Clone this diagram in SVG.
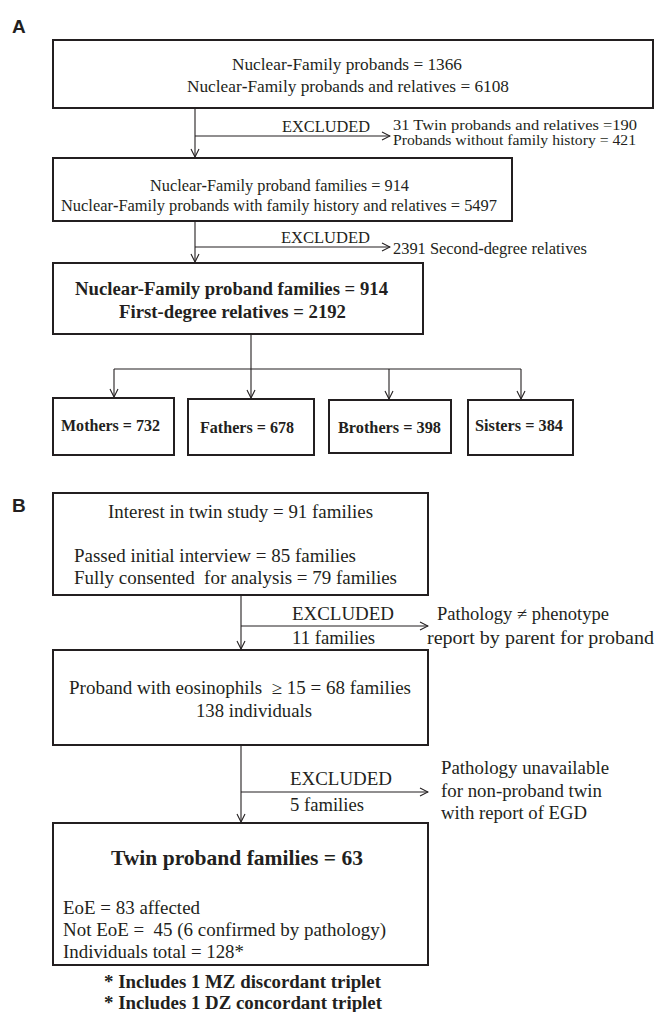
<svg xmlns="http://www.w3.org/2000/svg" width="655" height="1012" viewBox="0 0 655 1012">
<defs>
<style>
.box{fill:#fff;stroke:#231f20;stroke-width:2}
.ln{fill:none;stroke:#231f20;stroke-width:1.1}
.t{font-family:"Liberation Serif","Times New Roman",serif;fill:#231f20}
.a{font-size:16px}
.s{font-size:15px}
.b{font-size:18px}
.bd{font-weight:bold}
.lbl{font-family:"Liberation Sans",Arial,sans-serif;font-weight:bold;font-size:19px;fill:#231f20}
</style>
<marker id="ah" viewBox="-9 -5 10 10" refX="0" refY="0" markerWidth="10" markerHeight="10" markerUnits="userSpaceOnUse" orient="auto">
<path d="M-8,-4 L0,0 L-8,4" fill="none" stroke="#231f20" stroke-width="1.1"/>
</marker>
</defs>
<rect width="655" height="1012" fill="#fff"/>
<text class="lbl" x="12" y="33">A</text>
<text class="lbl" x="12" y="512">B</text>

<g id="connectors">
<line class="ln" x1="195" y1="108" x2="195" y2="157" marker-end="url(#ah)"/>
<line class="ln" x1="195" y1="136" x2="390" y2="136" marker-end="url(#ah)"/>
<line class="ln" x1="195" y1="221" x2="195" y2="262" marker-end="url(#ah)"/>
<line class="ln" x1="195" y1="247" x2="390" y2="247" marker-end="url(#ah)"/>
<line class="ln" x1="251" y1="334" x2="251" y2="398" marker-end="url(#ah)"/>
<line class="ln" x1="114" y1="369" x2="521" y2="369"/>
<line class="ln" x1="114" y1="369" x2="114" y2="397" marker-end="url(#ah)"/>
<line class="ln" x1="389" y1="369" x2="389" y2="399" marker-end="url(#ah)"/>
<line class="ln" x1="521" y1="369" x2="521" y2="399" marker-end="url(#ah)"/>
<line class="ln" x1="241" y1="595" x2="241" y2="649" marker-end="url(#ah)"/>
<line class="ln" x1="241" y1="626" x2="428" y2="626" marker-end="url(#ah)"/>
<line class="ln" x1="241" y1="745" x2="241" y2="822" marker-end="url(#ah)"/>
<line class="ln" x1="241" y1="792" x2="428" y2="792" marker-end="url(#ah)"/>
</g>

<g id="a-all-probands">
<rect class="box" x="53" y="40" width="600" height="68"/>
<text class="t a" x="232" y="70" textLength="230" lengthAdjust="spacingAndGlyphs">Nuclear<tspan class="bd">-</tspan>Family probands = 1366</text>
<text class="t a" x="187" y="92" textLength="322" lengthAdjust="spacingAndGlyphs">Nuclear<tspan class="bd">-</tspan>Family probands and relatives = 6108</text>
</g>

<g id="a-excluded-1">
<text class="t a" x="282" y="132" textLength="88" lengthAdjust="spacingAndGlyphs">EXCLUDED</text>
<text class="t s" x="393" y="130" textLength="244" lengthAdjust="spacingAndGlyphs">31 Twin probands and relatives =190</text>
<text class="t s" x="393" y="145" textLength="243" lengthAdjust="spacingAndGlyphs">Probands without family history = 421</text>
</g>

<g id="a-families">
<rect class="box" x="53" y="158" width="459" height="63"/>
<text class="t a" x="150" y="191" textLength="259" lengthAdjust="spacingAndGlyphs">Nuclear<tspan class="bd">-</tspan>Family proband families = 914</text>
<text class="t a" x="61" y="211" textLength="436" lengthAdjust="spacingAndGlyphs">Nuclear<tspan class="bd">-</tspan>Family probands with family history and relatives = 5497</text>
</g>

<g id="a-excluded-2">
<text class="t a" x="281" y="243" textLength="89" lengthAdjust="spacingAndGlyphs">EXCLUDED</text>
<text class="t a" x="393" y="254" textLength="194" lengthAdjust="spacingAndGlyphs">2391 Second<tspan class="bd">-</tspan>degree relatives</text>
</g>

<g id="a-first-degree">
<rect class="box" x="53" y="263" width="370" height="71"/>
<text class="t bd" style="font-size:18px" x="75" y="295" textLength="313" lengthAdjust="spacingAndGlyphs">Nuclear-Family proband families = 914</text>
<text class="t bd" style="font-size:18px" x="119" y="318" textLength="227" lengthAdjust="spacingAndGlyphs">First-degree relatives = 2192</text>
</g>

<g id="a-mothers">
<rect class="box" x="53" y="398" width="121" height="57"/>
<text class="t bd" style="font-size:16px" x="61" y="431" textLength="99" lengthAdjust="spacingAndGlyphs">Mothers = 732</text>
</g>
<g id="a-fathers">
<rect class="box" x="188" y="399" width="126" height="56"/>
<text class="t bd" style="font-size:16px" x="200" y="433" textLength="94" lengthAdjust="spacingAndGlyphs">Fathers = 678</text>
</g>
<g id="a-brothers">
<rect class="box" x="329" y="400" width="122" height="53"/>
<text class="t bd" style="font-size:16px" x="338" y="433" textLength="103" lengthAdjust="spacingAndGlyphs">Brothers = 398</text>
</g>
<g id="a-sisters">
<rect class="box" x="468" y="400" width="105" height="55"/>
<text class="t bd" style="font-size:16px" x="475" y="431" textLength="88" lengthAdjust="spacingAndGlyphs">Sisters = 384</text>
</g>

<g id="b-interest">
<rect class="box" x="53" y="493" width="375" height="102"/>
<text class="t b" x="108" y="518" textLength="265" lengthAdjust="spacingAndGlyphs">Interest in twin study = 91 families</text>
<text class="t b" x="74" y="562" textLength="282" lengthAdjust="spacingAndGlyphs">Passed initial interview = 85 families</text>
<text class="t b" x="74" y="584" textLength="323" lengthAdjust="spacingAndGlyphs" xml:space="preserve">Fully consented  for analysis = 79 families</text>
</g>

<g id="b-excluded-1">
<text class="t b" x="292" y="620" textLength="102" lengthAdjust="spacingAndGlyphs">EXCLUDED</text>
<text class="t b" x="292" y="644" textLength="83" lengthAdjust="spacingAndGlyphs">11 families</text>
<text class="t b" x="437" y="620" textLength="172" lengthAdjust="spacingAndGlyphs">Pathology ≠ phenotype</text>
<text class="t b" x="427" y="644" textLength="227" lengthAdjust="spacingAndGlyphs">report by parent for proband</text>
</g>

<g id="b-eosinophils">
<rect class="box" x="53" y="650" width="375" height="95"/>
<text class="t b" x="69" y="694" textLength="342" lengthAdjust="spacingAndGlyphs" xml:space="preserve">Proband with eosinophils  ≥ 15 = 68 families</text>
<text class="t b" x="196" y="717" textLength="116" lengthAdjust="spacingAndGlyphs">138 individuals</text>
</g>

<g id="b-excluded-2">
<text class="t b" x="290" y="785" textLength="102" lengthAdjust="spacingAndGlyphs">EXCLUDED</text>
<text class="t b" x="290" y="811" textLength="74" lengthAdjust="spacingAndGlyphs">5 families</text>
<text class="t b" x="441" y="774" textLength="168" lengthAdjust="spacingAndGlyphs">Pathology unavailable</text>
<text class="t b" x="441" y="797" textLength="161" lengthAdjust="spacingAndGlyphs">for non-proband twin</text>
<text class="t b" x="441" y="819" textLength="146" lengthAdjust="spacingAndGlyphs">with report of EGD</text>
</g>

<g id="b-twin-families">
<rect class="box" x="53" y="823" width="375" height="142"/>
<text class="t bd" style="font-size:21px" x="111" y="865" textLength="252" lengthAdjust="spacingAndGlyphs">Twin proband families = 63</text>
<text class="t b" x="63" y="914" textLength="137" lengthAdjust="spacingAndGlyphs">EoE = 83 affected</text>
<text class="t b" x="63" y="936" textLength="323" lengthAdjust="spacingAndGlyphs" xml:space="preserve">Not EoE =  45 (6 confirmed by pathology)</text>
<text class="t b" x="63" y="958" textLength="181" lengthAdjust="spacingAndGlyphs">Individuals total = 128*</text>
</g>

<g id="b-footnotes">
<text class="t bd" style="font-size:18px" x="104" y="988" textLength="277" lengthAdjust="spacingAndGlyphs">* Includes 1 MZ discordant triplet</text>
<text class="t bd" style="font-size:18px" x="104" y="1009" textLength="278" lengthAdjust="spacingAndGlyphs">* Includes 1 DZ concordant triplet</text>
</g>
</svg>
